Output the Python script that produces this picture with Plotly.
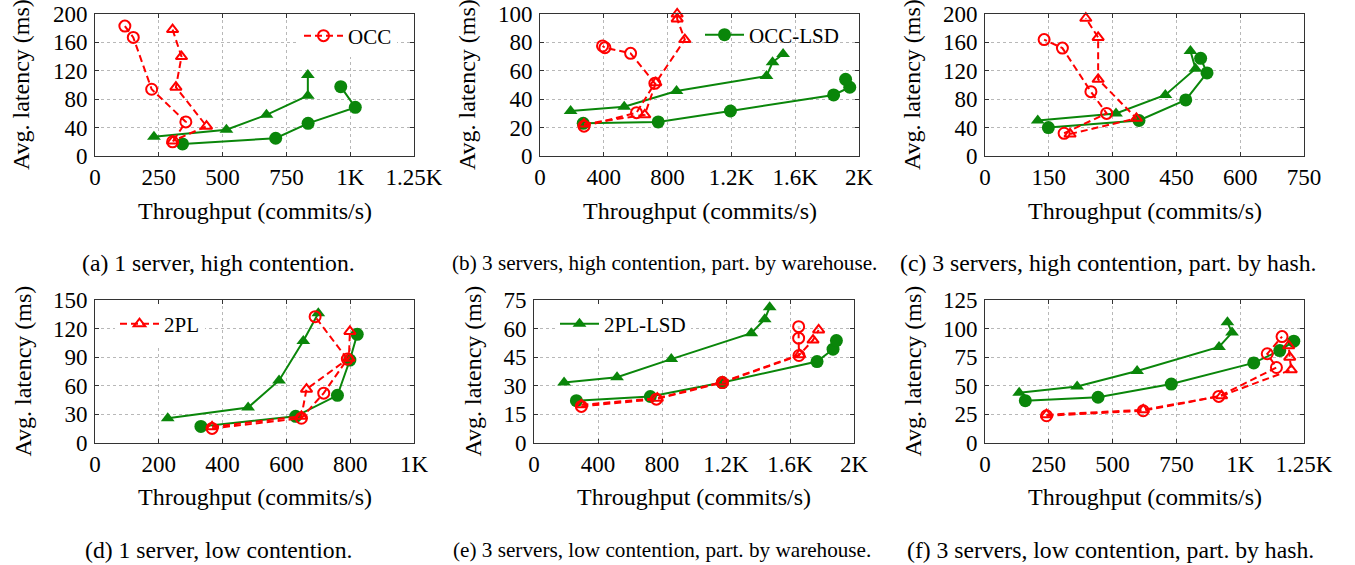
import plotly.graph_objects as go

W, H = 1355, 565
RED = "#ff0000"
GREEN = "#0a860a"
FONT = "Liberation Serif"

# ---------------- data (throughput commits/s, latency ms) ----------------
# (a) 1 server, high contention
a_occ_x = [117, 150, 222, 356, 304]
a_occ_y = [183, 167, 94, 48, 20]
a_2pl_x = [304, 339, 317, 437, 304]
a_2pl_y = [178, 140, 97, 42, 21]
a_occlsd_x = [343, 708, 835, 1020, 963]
a_occlsd_y = [17, 25, 46, 68.5, 97.6]
a_2pllsd_x = [231, 515, 672, 834, 834]
a_2pllsd_y = [27, 37, 58, 85, 114]

# (b) 3 servers, high contention, part. by warehouse
b_occ_x = [276, 605, 720, 568, 407, 392]
b_occ_y = [21, 30.5, 51.2, 72.3, 76.3, 77.5]
b_2pl_x = [276, 657, 726, 908, 860, 860]
b_2pl_y = [22.5, 29, 51.6, 82, 96.5, 100]
b_occlsd_x = [271, 741, 1194, 1841, 1942, 1916]
b_occlsd_y = [23, 24, 31.7, 43, 48.4, 54]
b_2pllsd_x = [192, 528, 856, 1420, 1458, 1524]
b_2pllsd_y = [31.7, 34.7, 45.8, 56.3, 66, 71.8]

# (c) 3 servers, high contention, part. by hash
c_occ_x = [186, 286, 249, 182, 139]
c_occ_y = [32, 60, 90.6, 152, 164]
c_2pl_x = [200, 356, 266, 266, 237]
c_2pl_y = [31, 53, 108, 167, 194]
c_occlsd_x = [149, 362, 472, 522, 507]
c_occlsd_y = [40, 50, 79, 117, 137.5]
c_2pllsd_x = [124, 308, 424, 495, 483]
c_2pllsd_y = [50, 60, 86, 123, 148]

# (d) 1 server, low contention
d_occ_x = [367, 647, 717, 791, 690]
d_occ_y = [15.3, 26, 52.3, 88, 132.5]
d_2pl_x = [367, 647, 663, 796, 799]
d_2pl_y = [17, 28, 56.5, 89, 117]
d_occlsd_x = [332, 629, 760, 799, 822]
d_occlsd_y = [17.4, 28, 50, 87, 114]
d_2pllsd_x = [228, 480, 577, 653, 700]
d_2pllsd_y = [26, 37.3, 65.6, 107, 136]

# (e) 3 servers, low contention, part. by warehouse
e_occ_x = [296, 765, 1177, 1656, 1654, 1654]
e_occ_y = [19.2, 23, 31.7, 45.9, 55, 61]
e_2pl_x = [296, 771, 1177, 1660, 1744, 1779]
e_2pl_y = [20, 23.5, 32, 46.3, 54, 59.3]
e_occlsd_x = [265, 727, 1177, 1769, 1869, 1890]
e_occlsd_y = [22.2, 24.4, 31.7, 42.7, 49.2, 53.7]
e_2pllsd_x = [188, 519, 858, 1358, 1442, 1473]
e_2pllsd_y = [31.7, 34.5, 44, 57.6, 64.9, 71.2]

# (f) 3 servers, low contention, part. by hash
f_occ_x = [241, 620, 916, 1142, 1106, 1164]
f_occ_y = [23.8, 28.2, 40.7, 66, 78, 93]
f_2pl_x = [241, 620, 927, 1200, 1194, 1190]
f_2pl_y = [24.7, 29, 41.3, 64, 75, 85]
f_occlsd_x = [158, 443, 730, 1053, 1155, 1210]
f_occlsd_y = [37, 40, 51.5, 70, 80.8, 89]
f_2pllsd_x = [134, 361, 596, 917, 968, 950]
f_2pllsd_y = [44, 49.4, 63, 84, 96.5, 105.5]

# axis ticks
x_ticks_a = [0, 250, 500, 750, 1000, 1250]
x_text_a = ["0", "250", "500", "750", "1K", "1.25K"]
x_ticks_b = [0, 400, 800, 1200, 1600, 2000]
x_text_b = ["0", "400", "800", "1.2K", "1.6K", "2K"]
x_ticks_c = [0, 150, 300, 450, 600, 750]
x_text_c = ["0", "150", "300", "450", "600", "750"]
x_ticks_d = [0, 200, 400, 600, 800, 1000]
x_text_d = ["0", "200", "400", "600", "800", "1K"]
y_ticks_a = [0, 40, 80, 120, 160, 200]
y_ticks_b = [0, 20, 40, 60, 80, 100]
y_ticks_c = [0, 40, 80, 120, 160, 200]
y_ticks_d = [0, 30, 60, 90, 120, 150]
y_ticks_e = [0, 15, 30, 45, 60, 75]
y_ticks_f = [0, 25, 50, 75, 100, 125]

captions = [
    "(a) 1 server, high contention.",
    "(b) 3 servers, high contention, part. by warehouse.",
    "(c) 3 servers, high contention, part. by hash.",
    "(d) 1 server, low contention.",
    "(e) 3 servers, low contention, part. by warehouse.",
    "(f) 3 servers, low contention, part. by hash.",
]

panels = [
    dict(occ=(a_occ_x, a_occ_y), pl=(a_2pl_x, a_2pl_y), occlsd=(a_occlsd_x, a_occlsd_y), pllsd=(a_2pllsd_x, a_2pllsd_y),
         xt=x_ticks_a, xl=x_text_a, yt=y_ticks_a, box=(95, 414, 14, 156), ytx=21, leg="occ"),
    dict(occ=(b_occ_x, b_occ_y), pl=(b_2pl_x, b_2pl_y), occlsd=(b_occlsd_x, b_occlsd_y), pllsd=(b_2pllsd_x, b_2pllsd_y),
         xt=x_ticks_b, xl=x_text_b, yt=y_ticks_b, box=(540, 859, 14, 156), ytx=467, leg="occlsd"),
    dict(occ=(c_occ_x, c_occ_y), pl=(c_2pl_x, c_2pl_y), occlsd=(c_occlsd_x, c_occlsd_y), pllsd=(c_2pllsd_x, c_2pllsd_y),
         xt=x_ticks_c, xl=x_text_c, yt=y_ticks_c, box=(985, 1304, 14, 156), ytx=912, leg=None),
    dict(occ=(d_occ_x, d_occ_y), pl=(d_2pl_x, d_2pl_y), occlsd=(d_occlsd_x, d_occlsd_y), pllsd=(d_2pllsd_x, d_2pllsd_y),
         xt=x_ticks_d, xl=x_text_d, yt=y_ticks_d, box=(95, 414, 300, 443), ytx=22, leg="pl"),
    dict(occ=(e_occ_x, e_occ_y), pl=(e_2pl_x, e_2pl_y), occlsd=(e_occlsd_x, e_occlsd_y), pllsd=(e_2pllsd_x, e_2pllsd_y),
         xt=x_ticks_b, xl=x_text_b, yt=y_ticks_e, box=(534, 854, 300, 443), ytx=472, leg="pllsd"),
    dict(occ=(f_occ_x, f_occ_y), pl=(f_2pl_x, f_2pl_y), occlsd=(f_occlsd_x, f_occlsd_y), pllsd=(f_2pllsd_x, f_2pllsd_y),
         xt=x_ticks_a, xl=x_text_a, yt=y_ticks_f, box=(985, 1304, 300, 443), ytx=912, leg=None),
]

styles = {
    "occlsd": dict(name="OCC-LSD", line=dict(color=GREEN, width=2),
                   marker=dict(symbol="circle", size=13, color=GREEN)),
    "pllsd": dict(name="2PL-LSD", line=dict(color=GREEN, width=2),
                  marker=dict(symbol="triangle-up", size=12, color=GREEN)),
    "occ": dict(name="OCC", line=dict(color=RED, width=2, dash="7px,4px"),
                marker=dict(symbol="circle-open", size=11, color=RED, line=dict(width=2, color=RED))),
    "pl": dict(name="2PL", line=dict(color=RED, width=2, dash="7px,4px"),
               marker=dict(symbol="triangle-up-open", size=10, color=RED, line=dict(width=2, color=RED))),
}
legend_ids = {"occ": "legend", "occlsd": "legend2", "pl": "legend3", "pllsd": "legend4"}


def fx(px):
    return px / W


def fy(py):
    return 1 - py / H


fig = go.Figure()
layout = dict(template="none", width=W, height=H, margin=dict(l=0, r=0, t=0, b=0, pad=0),
              autosize=False,
              paper_bgcolor="white", plot_bgcolor="white",
              font=dict(family=FONT, color="black", size=23))
annotations = []

for i, p in enumerate(panels):
    n = "" if i == 0 else str(i + 1)
    l, r, t, b = p["box"]
    xd = [fx(l), fx(r)]
    yd = [fy(b), fy(t)]
    common = dict(showline=True, linecolor="#333333", linewidth=1, mirror="ticks",
                  ticks="inside", ticklen=4, tickcolor="#333333", automargin=False,
                  showgrid=True, gridcolor="#b8b8b8", griddash="dot", gridwidth=1,
                  zeroline=False, tickfont=dict(family=FONT, size=23, color="black"),
                  ticklabeloverflow="allow")
    layout["xaxis" + n] = dict(domain=xd, anchor="y" + n, range=[p["xt"][0], p["xt"][-1]],
                               tickmode="array", tickvals=p["xt"], ticktext=p["xl"], **common)
    layout["yaxis" + n] = dict(domain=yd, anchor="x" + n, range=[p["yt"][0], p["yt"][-1]],
                               tickmode="array", tickvals=p["yt"], ticktext=[str(v) for v in p["yt"]],
                               ticklabelstandoff=2, **common)
    for key in ["occlsd", "pllsd", "occ", "pl"]:
        xs, ys = p[key]
        st = styles[key]
        show = p["leg"] == key
        tr = go.Scatter(x=xs, y=ys, mode="lines+markers", name=st["name"], line=st["line"],
                        marker=st["marker"], xaxis="x" + n, yaxis="y" + n, cliponaxis=False,
                        showlegend=show, hoverinfo="skip")
        if show:
            tr.legend = legend_ids[key]
        fig.add_trace(tr)
    cx = (l + r) / 2
    cy = (t + b) / 2
    annotations.append(dict(text="Avg. latency (ms)", textangle=-90, x=fx(p["ytx"]), y=fy(cy),
                            xref="paper", yref="paper", showarrow=False, xanchor="center", yanchor="middle",
                            font=dict(family=FONT, size=24, color="black")))
    xty = 211 if i < 3 else 497
    annotations.append(dict(text="Throughput (commits/s)", x=fx(cx), y=fy(xty),
                            xref="paper", yref="paper", showarrow=False, xanchor="center", yanchor="middle",
                            font=dict(family=FONT, size=24, color="black")))

cap_x = [218, 664, 1108, 218, 662, 1110]
cap_size = [23.7, 21.2, 23.7, 23.7, 21.2, 23.7]
for i, c in enumerate(captions):
    cy = 263 if i < 3 else 550
    annotations.append(dict(text=c, x=fx(cap_x[i]), y=fy(cy), xref="paper", yref="paper",
                            showarrow=False, xanchor="center", yanchor="middle",
                            font=dict(family=FONT, size=cap_size[i], color="black")))

layout["annotations"] = annotations


def leg(xpx, ypx, bg="white"):
    return dict(x=fx(xpx), y=fy(ypx), xanchor="left", yanchor="middle", bgcolor=bg,
                borderwidth=0, font=dict(family=FONT, size=21, color="black"),
                itemwidth=39, tracegroupgap=0)


layout["legend"] = leg(299, 36)
layout["legend2"] = leg(700, 35, bg="rgba(255,255,255,0)")
layout["legend3"] = leg(115, 324)
layout["legend4"] = leg(555, 324)

fig.update_layout(**layout)
# remove the default page margin so the figure sits at the window's top-left corner
fig.write_html("out.html", config={"displayModeBar": False},
               post_script="document.body.style.margin='0px';document.body.style.overflow='hidden';")
